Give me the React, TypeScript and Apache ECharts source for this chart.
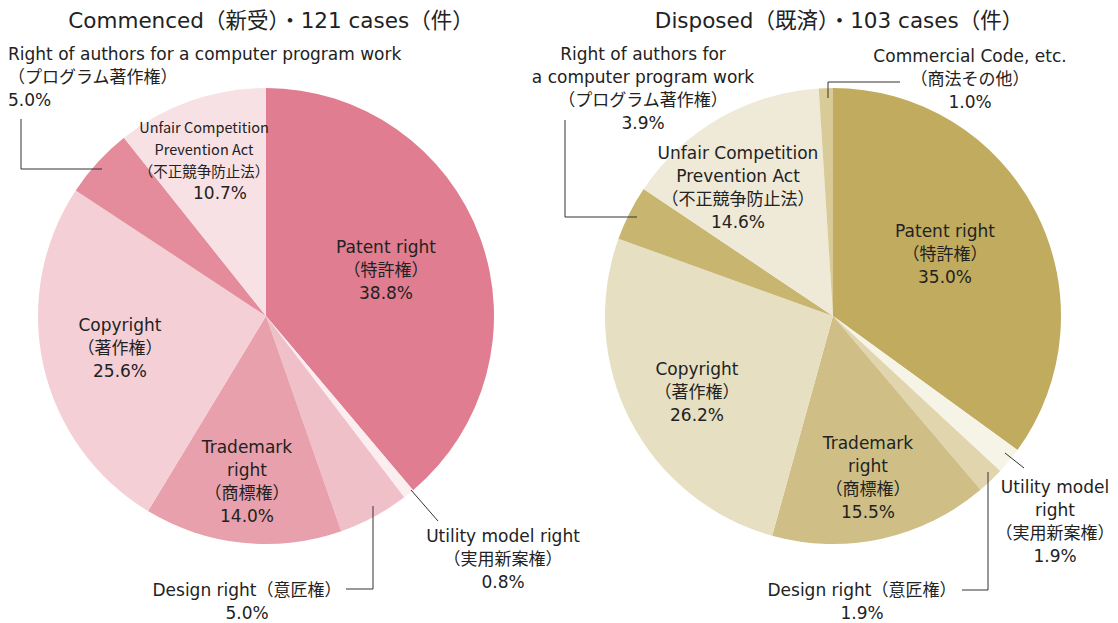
import React, { useEffect, useRef } from "react";
import * as echarts from "echarts";

// ---- Data ----
const leftTitle = "Commenced（新受）・121 cases（件）";
const rightTitle = "Disposed（既済）・103 cases（件）";

const leftNames = [
  "Patent right\n（特許権）",
  "Utility model right\n（実用新案権）",
  "Design right（意匠権）",
  "Trademark\nright\n（商標権）",
  "Copyright\n（著作権）",
  "Right of authors for a computer program work\n（プログラム著作権）",
  "Unfair Competition\nPrevention Act\n（不正競争防止法）",
];
const leftValues = [38.8, 0.8, 5.0, 14.0, 25.6, 5.0, 10.7];

const rightNames = [
  "Patent right\n（特許権）",
  "Utility model\nright\n（実用新案権）",
  "Design right（意匠権）",
  "Trademark\nright\n（商標権）",
  "Copyright\n（著作権）",
  "Right of authors for\na computer program work\n（プログラム著作権）",
  "Unfair Competition\nPrevention Act\n（不正競争防止法）",
  "Commercial Code, etc.\n（商法その他）",
];
const rightValues = [35.0, 1.9, 1.9, 15.5, 26.2, 3.9, 14.6, 1.0];

// ---- Styles / layout (not data) ----
const leftColors = ["#e07d90", "#fbedf0", "#f0c0c8", "#e8a0ac", "#f4cfd6", "#e48c9c", "#f8e1e5"];
const rightColors = ["#c1ab5e", "#f6f3e7", "#e0d5ad", "#cfbf86", "#e6dfc2", "#c8b56f", "#efe9d8", "#d9cb98"];

const leftLabelPos: [number, number, string][] = [
  [386, 270, "center"],
  [503, 559, "center"],
  [247, 601, "center"],
  [247, 481, "center"],
  [120, 348, "center"],
  [8, 77, "left"],
  [204, 160, "center"],
];
const rightLabelPos: [number, number, string][] = [
  [945, 254, "center"],
  [1055, 521, "center"],
  [862, 601, "center"],
  [868, 477, "center"],
  [697, 392, "center"],
  [643, 88, "center"],
  [738, 187, "center"],
  [970, 79, "center"],
];

const FONT = "'DejaVu Sans', 'Noto Sans CJK JP', sans-serif";
const FONT_CONDENSED = "'Noto Sans CJK JP', sans-serif";
const TEXT = "#222222";

const leaderLines: number[][][] = [
  [[102, 169], [21, 169], [21, 119]],
  [[373, 506], [373, 589], [346, 589]],
  [[411, 490], [438, 521]],
  [[637, 217], [565, 217], [565, 120]],
  [[828, 98], [828, 82], [900, 82]],
  [[988, 472], [988, 590], [962, 590]],
  [[1005, 453], [1024, 468]],
];

function makeSeries(
  names: string[],
  values: number[],
  colors: string[],
  pos: [number, number, string][],
  center: [number, number],
  condensedIndex: number
) {
  return {
    type: "pie",
    center,
    radius: [0, 228],
    startAngle: 90,
    clockwise: true,
    avoidLabelOverlap: false,
    silent: true,
    data: names.map((n, i) => ({
      name: n,
      value: values[i],
      itemStyle: { color: colors[i] },
    })),
    label: {
      show: true,
      position: "inside",
      color: TEXT,
      fontFamily: FONT,
      fontSize: 17,
      lineHeight: 23,
      formatter: (p: any) => {
        const pct = p.value.toFixed(1) + "%";
        if (p.dataIndex === condensedIndex) {
          const lines = p.name.split("\n").map((l: string) => `{c|${l}}`).join("\n");
          return `${lines}\n{p|${pct}}`;
        }
        return `${p.name}\n${pct}`;
      },
      rich: {
        c: { fontFamily: FONT_CONDENSED, fontSize: 14.5, lineHeight: 22, color: TEXT },
        p: { fontFamily: FONT, fontSize: 17, lineHeight: 23, color: TEXT, padding: [0, 0, 0, 32] },
      },
    },
    labelLine: { show: false },
    labelLayout: (params: any) => {
      const q = pos[params.dataIndex];
      return { x: q[0], y: q[1], align: q[2], verticalAlign: "middle" };
    },
    itemStyle: { borderWidth: 0 },
    emphasis: { disabled: true },
  };
}

export default function App() {
  const ref = useRef<HTMLDivElement>(null);
  useEffect(() => {
    document.body.style.margin = "0";
    if (!ref.current) return;
    const chart = echarts.init(ref.current, null, { renderer: "svg" });
    const titleStyle = { fontFamily: FONT, fontSize: 21.5, fontWeight: "normal", color: TEXT };
    chart.setOption({
      animation: false,
      backgroundColor: "#ffffff",
      title: [
        { text: leftTitle, left: 266, top: 5, textAlign: "center", textStyle: titleStyle },
        { text: rightTitle, left: 834, top: 5, textAlign: "center", textStyle: titleStyle },
      ],
      series: [
        makeSeries(leftNames, leftValues, leftColors, leftLabelPos, [266, 316], 6),
        makeSeries(rightNames, rightValues, rightColors, rightLabelPos, [833, 316], -1),
      ],
      graphic: leaderLines.map((pts) => ({
        type: "polyline",
        shape: { points: pts },
        style: { stroke: "#333333", lineWidth: 1, fill: "none" },
        silent: true,
        z: 100,
      })),
    });
    return () => chart.dispose();
  }, []);
  return <div ref={ref} style={{ width: 1118, height: 623 }} />;
}
